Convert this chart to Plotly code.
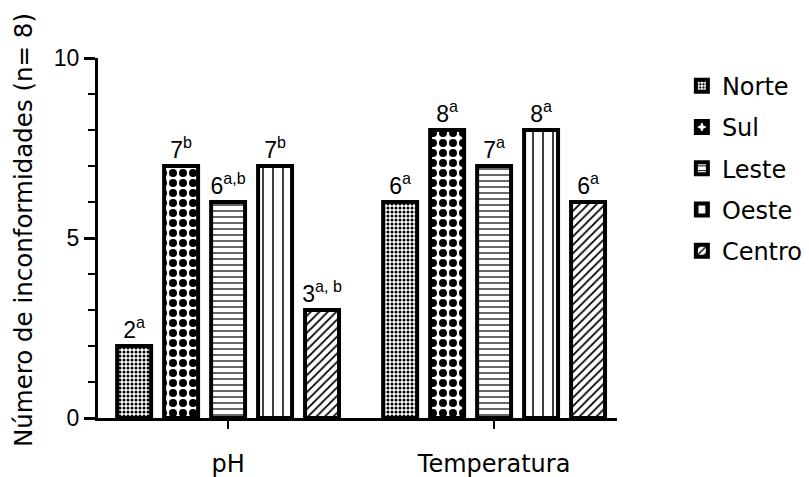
import plotly.graph_objects as go

categories = ["pH", "Temperatura"]
series_names = ["Norte", "Sul", "Leste", "Oeste", "Centro"]
norte = [2, 6]
sul = [7, 8]
leste = [6, 7]
oeste = [7, 8]
centro = [3, 6]
norte_lbl = ["2<sup>a</sup>", "6<sup>a</sup>"]
sul_lbl = ["7<sup>b</sup>", "8<sup>a</sup>"]
leste_lbl = ["6<sup>a,b</sup>", "7<sup>a</sup>"]
oeste_lbl = ["7<sup>b</sup>", "8<sup>a</sup>"]
centro_lbl = ["3<sup>a, b</sup>", "6<sup>a</sup>"]
y_title = "Número de inconformidades (n= 8)"

values = [norte, sul, leste, oeste, centro]
labels = [norte_lbl, sul_lbl, leste_lbl, oeste_lbl, centro_lbl]
patterns = [
    dict(shape=".", size=4, solidity=0.45),
    dict(shape=".", size=10, solidity=0.5),
    dict(shape="-", size=6, solidity=0.2),
    dict(shape="|", size=10, solidity=0.15),
    dict(shape="/", size=6, solidity=0.3),
]

NUMFONT = "Liberation Sans, Arial, sans-serif"
WORDFONT = "DejaVu Sans, sans-serif"
fig = go.Figure()
for name, v, lbl, pat in zip(series_names, values, labels, patterns):
    p = dict(pat)
    p.update(fgcolor="black", bgcolor="white", fillmode="replace")
    fig.add_trace(go.Bar(
        name=name, legendgroup=name, x=categories, y=v, text=lbl,
        textposition="outside", texttemplate="%{text}",
        textfont=dict(size=23, color="black", family=NUMFONT),
        constraintext="none", cliponaxis=False,
        marker=dict(color="white", line=dict(color="black", width=4), pattern=p),
    ))

fig.update_layout(
    width=801, height=469,
    paper_bgcolor="white", plot_bgcolor="white",
    margin=dict(l=90, r=192, t=50, b=59, autoexpand=False),
    barmode="group", bargap=0.117, bargroupgap=0.277,
    font=dict(family=NUMFONT, size=22, color="black"),
    showlegend=True,
    legend=dict(x=1.125, y=0.984, xanchor="left", yanchor="top",
                font=dict(size=24, family=WORDFONT), bgcolor="rgba(0,0,0,0)",
                tracegroupgap=7),
    xaxis=dict(type="category", range=[-0.489, 1.462], showline=True,
               linecolor="black", linewidth=3, ticks="outside", ticklen=8,
               tickwidth=2, tickcolor="black", showgrid=False,
               tickfont=dict(size=24, family=WORDFONT), zeroline=False,
               ticklabelstandoff=14),
    yaxis=dict(range=[0, 10], tickvals=[0, 5, 10], showline=True,
               linecolor="black", linewidth=3, ticks="outside", ticklen=11,
               tickwidth=3, tickcolor="black", showgrid=False, zeroline=False,
               tickfont=dict(size=23, family=NUMFONT),
               minor=dict(dtick=1, ticks="outside", ticklen=7, tickwidth=2,
                          tickcolor="black", showgrid=False)),
    annotations=[dict(text=y_title, xref="paper", yref="paper", x=-0.1445, y=0.522,
                      xanchor="center", yanchor="middle", textangle=-90,
                      showarrow=False, font=dict(size=24.5, family=WORDFONT))],
)

fig.write_html("out.html")
